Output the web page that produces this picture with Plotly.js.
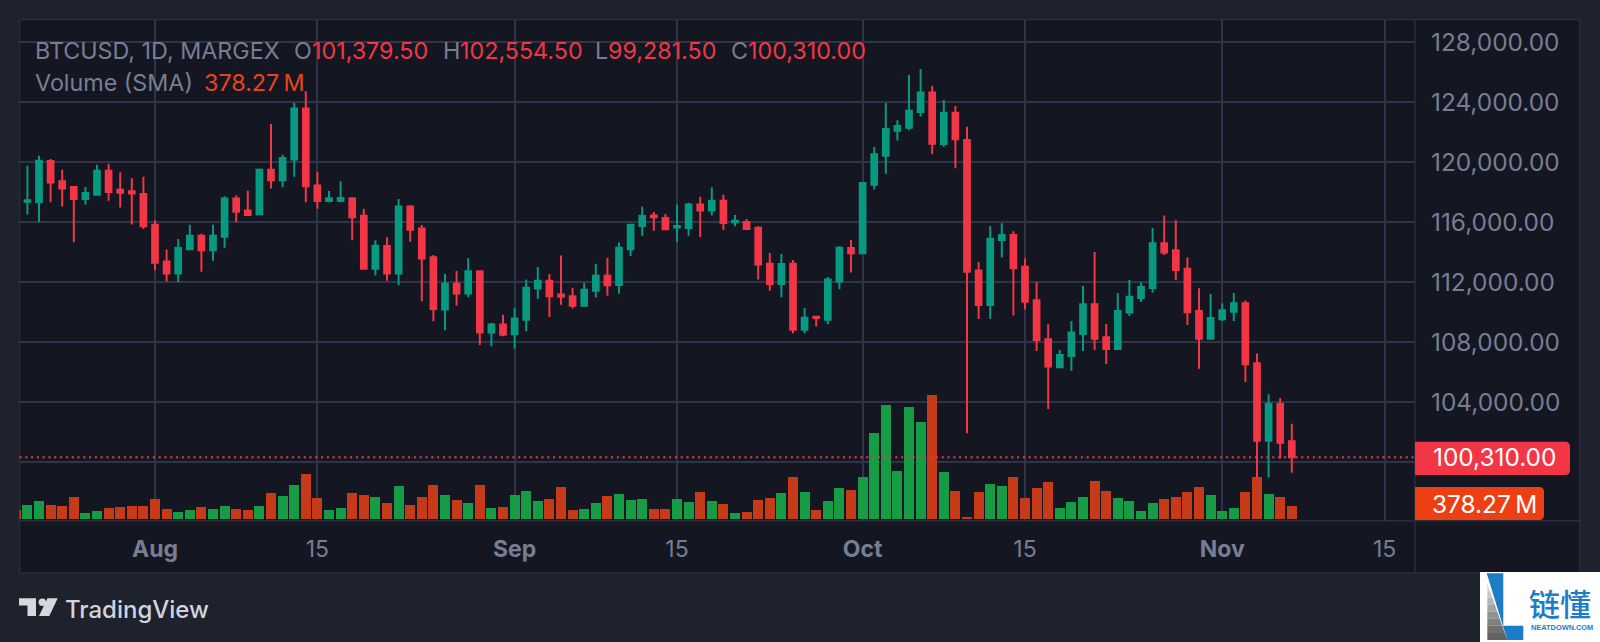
<!DOCTYPE html>
<html>
<head>
<meta charset="utf-8">
<script src="https://cdn.plot.ly/plotly-3.0.1.min.js"></script>
<style>html,body{margin:0;padding:0;background:#1e222d;overflow:hidden}#chart{width:1600px;height:642px}</style>
</head>
<body>
<div id="chart"></div>
<script>
const dates = ["2025-07-21","2025-07-22","2025-07-23","2025-07-24","2025-07-25","2025-07-26","2025-07-27","2025-07-28","2025-07-29","2025-07-30","2025-07-31",
"2025-08-01","2025-08-02","2025-08-03","2025-08-04","2025-08-05","2025-08-06","2025-08-07","2025-08-08","2025-08-09","2025-08-10","2025-08-11","2025-08-12","2025-08-13","2025-08-14","2025-08-15","2025-08-16","2025-08-17","2025-08-18","2025-08-19","2025-08-20","2025-08-21","2025-08-22","2025-08-23","2025-08-24","2025-08-25","2025-08-26","2025-08-27","2025-08-28","2025-08-29","2025-08-30","2025-08-31",
"2025-09-01","2025-09-02","2025-09-03","2025-09-04","2025-09-05","2025-09-06","2025-09-07","2025-09-08","2025-09-09","2025-09-10","2025-09-11","2025-09-12","2025-09-13","2025-09-14","2025-09-15","2025-09-16","2025-09-17","2025-09-18","2025-09-19","2025-09-20","2025-09-21","2025-09-22","2025-09-23","2025-09-24","2025-09-25","2025-09-26","2025-09-27","2025-09-28","2025-09-29","2025-09-30",
"2025-10-01","2025-10-02","2025-10-03","2025-10-04","2025-10-05","2025-10-06","2025-10-07","2025-10-08","2025-10-09","2025-10-10","2025-10-11","2025-10-12","2025-10-13","2025-10-14","2025-10-15","2025-10-16","2025-10-17","2025-10-18","2025-10-19","2025-10-20","2025-10-21","2025-10-22","2025-10-23","2025-10-24","2025-10-25","2025-10-26","2025-10-27","2025-10-28","2025-10-29","2025-10-30","2025-10-31",
"2025-11-01","2025-11-02","2025-11-03","2025-11-04","2025-11-05","2025-11-06","2025-11-07"];

const open = [117350,117310,120070,118710,118330,117530,117820,119420,118150,118050,117870,
115820,113360,112560,114180,115090,114110,115020,117560,116760,116510,119490,118780,120160,123560,118440,117400,117420,117560,116420,112890,114400,112560,117040,115560,113650,110160,111890,111240,112710,108640,109160,
108510,109490,111560,112090,111160,111050,110420,111420,112420,111800,114180,115730,116440,116270,115640,115600,117160,116760,117420,115980,116000,115620,113220,111870,113220,108820,109690,109490,112040,114270,
113910,118490,120420,122090,122290,123330,124640,121200,123290,121470,112760,110470,114800,115130,113020,110780,108180,106310,107070,108530,110510,108310,107530,109960,110930,111600,114580,114110,112890,110070,108220,
109510,110020,110580,106580,101420,103870,101379.5];

const high = [119750,120420,120200,119490,118400,118330,119820,119890,119310,118910,119020,
116110,114160,114870,115820,115220,115820,117710,117760,118090,119560,122530,120490,123930,124710,119330,118070,118710,117670,116890,114780,114980,117530,117110,115800,113800,112530,112730,113580,112780,109270,109820,
110270,112160,113000,112530,113760,111620,111930,113200,113620,114640,115850,117040,116670,116530,117160,117290,117690,118310,117820,116470,116200,115710,113930,113870,113470,110270,109690,112330,114380,114800,
118640,121000,123930,122780,125800,126200,125090,124130,123730,122350,113330,115730,115910,115380,113580,111980,109180,107470,109400,111730,114000,109200,111270,112130,111980,115600,116440,116110,113640,111580,111200,
110580,111270,110760,107240,104510,104250,102554.5];

const low = [116500,116000,117310,117040,114650,117160,117780,117420,116960,115840,115530,
112780,112040,112000,114180,112690,113420,114290,115980,116440,116490,118240,118310,119020,117310,116890,117310,117310,114780,112820,112440,112090,111780,114690,110710,109380,108780,110440,110980,107800,107710,108380,
107560,108710,110890,109670,110490,110240,110400,110960,111090,111220,113730,115090,115420,115490,114690,115090,115000,116440,115470,115710,115510,112160,111420,110980,108580,108580,109040,109180,111510,112640,
113900,118160,119220,121440,122110,123040,120510,121020,119580,101910,109530,109530,113640,109760,110160,107400,103530,106290,106090,107400,107470,106530,107500,109730,110670,111290,113800,112130,109130,106220,108200,
109400,109400,105330,98950,98960,100240,99281.5];

const close = [117450,120090,118640,118240,117530,117930,119420,118000,117950,117900,115710,
113290,112560,114270,115090,114110,115090,117560,116690,116470,119490,118780,120270,123560,118380,117400,117580,117600,116310,112890,114420,112560,117040,115490,113560,110200,111890,111240,112710,108640,109160,108490,
109560,111620,112090,111050,111020,110420,111490,112420,111780,114290,115820,116400,116310,115510,115730,117160,116760,117420,115930,116090,115530,113160,111870,113200,108820,109620,109600,112160,114290,113910,
118600,120510,122200,122400,123420,124640,121220,123290,121510,112690,110470,114890,115130,112930,110690,108130,106360,107130,108640,110510,108220,107530,110070,111020,111670,114580,113960,112800,109980,108220,109600,
110110,110580,106510,101420,103870,101290,100310];

// traded volume in millions; the first bar (Jul 20) is cut off by the left edge
const volumeDates = ["2025-07-20"].concat(dates);
const volumes = [272,407,524,407,378,650,175,243,320,349,378,378,
592,291,204,262,349,291,378,291,262,378,766,679,989,1329,621,262,320,766,708,650,485,960,407,650,989,708,563,485,989,320,349,
708,815,543,592,931,262,291,485,679,728,563,592,291,291,592,514,795,543,456,175,204,563,621,766,1242,795,262,543,902,844,
1242,2503,3317,1407,3259,2842,3608,1387,825,68,795,1019,970,1222,621,912,1077,320,514,650,1116,825,621,543,233,485,592,650,795,931,708,
233,320,795,1222,737,650,378.27];

const priceTicks = [100000,104000,108000,112000,116000,120000,124000,128000];
const priceLabels = ["","104,000.00","108,000.00","112,000.00","116,000.00","120,000.00","124,000.00","128,000.00"];
const timeTicks = ["2025-08-01","2025-08-15","2025-09-01","2025-09-15","2025-10-01","2025-10-15","2025-11-01","2025-11-15"];
const timeLabels = ["<b>Aug</b>","15","<b>Sep</b>","15","<b>Oct</b>","15","<b>Nov</b>","15"];
const lastPrice = 100310;

const C = {outer:"#1e222d",plot:"#141722",grid:"#2f3448",frame:"#2a2e39",text:"#787d93",up:"#089981",down:"#f23645",volUp:"#169c45",volDown:"#c73a17",volTag:"#ee3f14",blue:"#1c7cc5"};
const W = 1600, H = 642;
const FONT = "Inter, 'Noto Sans', sans-serif";
const px = x => x / W, py = y => 1 - y / H;
const poly = pts => "M" + pts.map(p => px(p[0]) + "," + py(p[1])).join("L") + "Z";
const rect = (x0,y0,x1,y1,color) => ({type:"rect",xref:"paper",yref:"paper",x0:px(x0),x1:px(x1),y0:py(y0),y1:py(y1),fillcolor:color,line:{width:0},layer:"below"});
const seg = (x0,y0,x1,y1,color,w) => ({type:"line",xref:"paper",yref:"paper",x0:px(x0),x1:px(x1),y0:py(y0),y1:py(y1),line:{color:color,width:w},layer:"below"});
const tag = (x0,y0,x1,y1,color,r) => ({type:"path",xref:"paper",yref:"paper",fillcolor:color,line:{width:0},layer:"above",
  path:"M"+px(x0)+","+py(y0)+"L"+px(x1-r)+","+py(y0)+"Q"+px(x1)+","+py(y0)+" "+px(x1)+","+py(y0+r)+"L"+px(x1)+","+py(y1-r)+"Q"+px(x1)+","+py(y1)+" "+px(x1-r)+","+py(y1)+"L"+px(x0)+","+py(y1)+"Z"});
const label = (x,y,text,size,color,extra) => Object.assign({xref:"paper",yref:"paper",x:px(x),y:py(y),text:text,showarrow:false,xanchor:"left",yanchor:"middle",
  font:{family:FONT,size:size,color:color},borderpad:0},extra||{});

const shapes = [
  rect(19.5,19.5,1580,573,C.plot),
  seg(19.5,19.5,1580,19.5,C.frame,1.5), seg(1580,19.5,1580,573,C.frame,1.5),
  seg(19.5,19.5,19.5,573,C.frame,1.5), seg(19.5,573,1580,573,C.frame,1.5),
  seg(1415,19.5,1415,573,C.frame,1.5), seg(19.5,520.7,1580,520.7,C.frame,1.5),
  {type:"line",xref:"paper",yref:"y2",x0:px(19.5),x1:px(1415),y0:lastPrice,y1:lastPrice,line:{color:"#f23645",width:2,dash:"2px,3.8px"},opacity:1,layer:"above"},
  tag(1415,441.7,1570,475,C.down,5),
  tag(1415,487,1544,520,C.volTag,5),
  // TradingView mark
  {type:"path",xref:"paper",yref:"paper",layer:"above",fillcolor:"#d5d8e0",line:{width:0},path:poly([[19,598.3],[36,598.3],[36,616],[27.5,616],[27.5,605.5],[19,605.5]])},
  {type:"circle",xref:"paper",yref:"paper",layer:"above",fillcolor:"#d5d8e0",line:{width:0},x0:px(38.6),x1:px(46),y0:py(598.6),y1:py(606)},
  {type:"path",xref:"paper",yref:"paper",layer:"above",fillcolor:"#d5d8e0",line:{width:0},path:poly([[47.5,598.3],[57.7,598.3],[49.3,616],[39,616]])},
  // watermark
  Object.assign(rect(1480,572,1600,642,"#ffffff"),{layer:"above"}),
  {type:"path",xref:"paper",yref:"paper",layer:"above",fillcolor:C.blue,line:{width:0},path:poly([[1486.7,573.3],[1503.3,573.3],[1503.3,625.7],[1523.3,625.7],[1523.3,640],[1507.3,640]])}
];
// grey wedge of the watermark, shaded in bands from light to dark
const wedgeShades = ["#d8d8d8","#c8c8c8","#b6b6b6","#a4a4a4","#929292","#808080","#707070","#626262"];
wedgeShades.forEach((c,i) => {
  const n = wedgeShades.length, t0 = i/n, t1 = (i+1)/n;
  const yA = 583.3 + 56.7*t0, yB = 583.3 + 56.7*t1;
  shapes.push({type:"path",xref:"paper",yref:"paper",layer:"above",fillcolor:c,line:{width:0},
    path:poly([[1487.3,yA],[1487.3+20*t0,yA],[1487.3+20*t1,yB],[1487.3,yB]])});
});

const hdr = 50, sub = 82, hs = 23.3;
const annotations = [
  label(34,hdr,"BTCUSD, 1D, MARGEX",hs,C.text),
  label(293,hdr,"O",hs,C.text), label(311,hdr,"101,379.50",hs,C.down),
  label(441.5,hdr,"H",hs,C.text), label(459,hdr,"102,554.50",hs,C.down),
  label(594,hdr,"L",hs,C.text), label(607,hdr,"99,281.50",hs,C.down),
  label(730,hdr,"C",hs,C.text), label(747,hdr,"100,310.00",hs,C.down),
  label(34,sub,"Volume (SMA)",hs,C.text),
  label(203,sub,"378.27\u2009M",hs,"#e8431e"),
  label(1431.5,457,"100,310.00",24.4,"#ffffff"),
  label(1431,503.5,"378.27\u2009M",24.4,"#ffffff"),
  label(64,609,"TradingView",24,"#d1d4dc",{font:{family:FONT,size:24,color:"#d1d4dc",weight:500}}),
  label(1528,602,"链懂",31,C.blue,{font:{family:"'Noto Sans CJK SC'",size:31,color:C.blue,weight:500}}),
  label(1530,627,"NEATDOWN.COM",7.4,C.blue,{font:{family:"'Liberation Sans'",size:7.4,color:C.blue,weight:700}})
];

const traces = [
  {type:"bar",x:volumeDates,y:volumes,yaxis:"y",xaxis:"x",width:0.86*86400000,
   marker:{color:volumes.map((v,i) => i===0 ? C.volDown : (close[i-1] >= open[i-1] ? C.volUp : C.volDown)),line:{width:0}},hoverinfo:"skip",showlegend:false},
  {type:"candlestick",x:dates,open:open,high:high,low:low,close:close,yaxis:"y2",xaxis:"x",whiskerwidth:0,width:0.72*86400000,
   increasing:{line:{color:C.up,width:2},fillcolor:C.up},decreasing:{line:{color:C.down,width:2},fillcolor:C.down},showlegend:false,hoverinfo:"skip"}
];

const layout = {
  width:W,height:H,autosize:false,margin:{l:0,r:0,t:0,b:0,pad:0},
  paper_bgcolor:C.outer,plot_bgcolor:C.plot,showlegend:false,hovermode:false,bargap:0,
  xaxis:{type:"date",domain:[px(19.5),px(1415)],range:["2025-07-20 07:40","2025-11-17 14:53"],tickmode:"array",tickvals:timeTicks,ticktext:timeLabels,
    showgrid:true,gridcolor:C.grid,gridwidth:2,zeroline:false,showline:false,ticks:"",ticklabelstandoff:12,
    tickfont:{family:FONT,size:23,color:C.text},rangeslider:{visible:false},anchor:"y"},
  yaxis:{domain:[py(520.7),py(19.5)],range:[-41,14544],visible:false,showgrid:false,zeroline:false,fixedrange:true},
  yaxis2:{overlaying:"y",side:"right",anchor:"x",range:[96087,129500],tickmode:"array",tickvals:priceTicks,ticktext:priceLabels,
    showgrid:true,gridcolor:C.grid,gridwidth:2,zeroline:false,showline:false,ticks:"",ticklabelstandoff:15,
    tickfont:{family:FONT,size:24.4,color:C.text}},
  shapes:shapes,annotations:annotations
};
Plotly.newPlot("chart",traces,layout,{staticPlot:true,displayModeBar:false});
</script>
</body>
</html>
